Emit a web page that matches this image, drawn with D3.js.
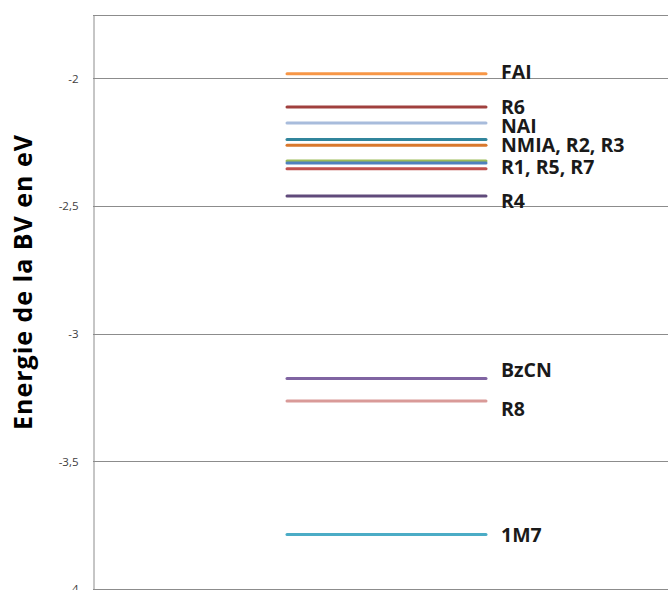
<!DOCTYPE html>
<html>
<head>
<meta charset="utf-8">
<script src="https://cdn.jsdelivr.net/npm/d3@7"></script>
<style>
  html, body { margin: 0; padding: 0; background: #fff; overflow: hidden; }
  svg { display: block; }
</style>
</head>
<body>
<div id="chart"></div>
<script>
// ---- data ----
const series = ["FAI", "R6", "NAI", "NMIA", "R2/R3", "R7", "R1", "R5", "R4", "BzCN", "R8", "1M7"];
const values = [-1.982, -2.112, -2.175, -2.24, -2.262, -2.324, -2.332, -2.354, -2.461, -3.176, -3.264, -3.787];
const colors = ["#F79646", "#A0403E", "#A8BCDC", "#31859C", "#D9782D", "#9BBB59", "#4F81BD", "#C0504D", "#604A7B", "#8064A2", "#D99A98", "#4BACC6"];
const labels = ["FAI", "R6", "NAI", "NMIA, R2, R3", "R1, R5, R7", "R4", "BzCN", "R8", "1M7"];
const labelValues = [-1.975, -2.112, -2.186, -2.26, -2.348, -2.481, -3.144, -3.294, -3.79];
const yTicks = [-2, -2.5, -3, -3.5, -4];
const yDomain = [-4, -1.75];
const yTitle = "Energie de la BV en eV";

// ---- layout ----
const W = 668, H = 590;
const plot = { left: 93, top: 14.5, right: 700, bottom: 589 };

const svg = d3.select("#chart").append("svg").attr("width", W).attr("height", H);

const y = d3.scaleLinear().domain(yDomain).range([plot.bottom, plot.top]);

// gridlines
svg.append("g")
  .selectAll("line")
  .data(yTicks.concat([yDomain[1]]))
  .join("line")
  .attr("x1", plot.left).attr("x2", plot.right)
  .attr("y1", d => Math.round(y(d)) + 0.5).attr("y2", d => Math.round(y(d)) + 0.5)
  .attr("stroke", "#8c8c8c").attr("stroke-width", 1);

// y axis
const yAxis = d3.axisLeft(y)
  .tickValues(yTicks)
  .tickSize(0)
  .tickPadding(15)
  .tickFormat(d => String(d).replace(".", ","));
const gAxis = svg.append("g").attr("transform", `translate(${plot.left + 0.5},0)`).call(yAxis);
gAxis.select(".domain").attr("stroke", "#8c8c8c");
gAxis.selectAll("text")
  .attr("font-family", "'Open Sans', sans-serif")
  .attr("font-size", 11.5)
  .attr("fill", "#404040");

// axis title
svg.append("text")
  .attr("transform", `translate(32,282.5) rotate(-90)`)
  .attr("text-anchor", "middle")
  .attr("font-family", "'Open Sans', sans-serif")
  .attr("font-weight", "bold")
  .attr("font-size", 25)
  .attr("textLength", 295)
  .attr("lengthAdjust", "spacing")
  .attr("fill", "#000")
  .text(yTitle);

// level lines
const xs = d3.scaleLinear().domain([0, 1]).range([287, 486]);
svg.append("g")
  .selectAll("line")
  .data(series.map((s, i) => ({ s, v: values[i], c: colors[i] })))
  .join("line")
  .attr("x1", xs(0)).attr("x2", xs(1))
  .attr("y1", d => y(d.v)).attr("y2", d => y(d.v))
  .attr("stroke", d => d.c)
  .attr("stroke-width", 3)
  .attr("stroke-linecap", "round");

// labels
svg.append("g")
  .selectAll("text")
  .data(labels.map((l, i) => ({ l, v: labelValues[i] })))
  .join("text")
  .attr("x", 501)
  .attr("y", d => y(d.v))
  .attr("dy", "0.36em")
  .attr("font-family", "'Open Sans', sans-serif")
  .attr("font-weight", "bold")
  .attr("font-size", 19.5)
  .attr("fill", "#1a1a1a")
  .text(d => d.l);
</script>
</body>
</html>
